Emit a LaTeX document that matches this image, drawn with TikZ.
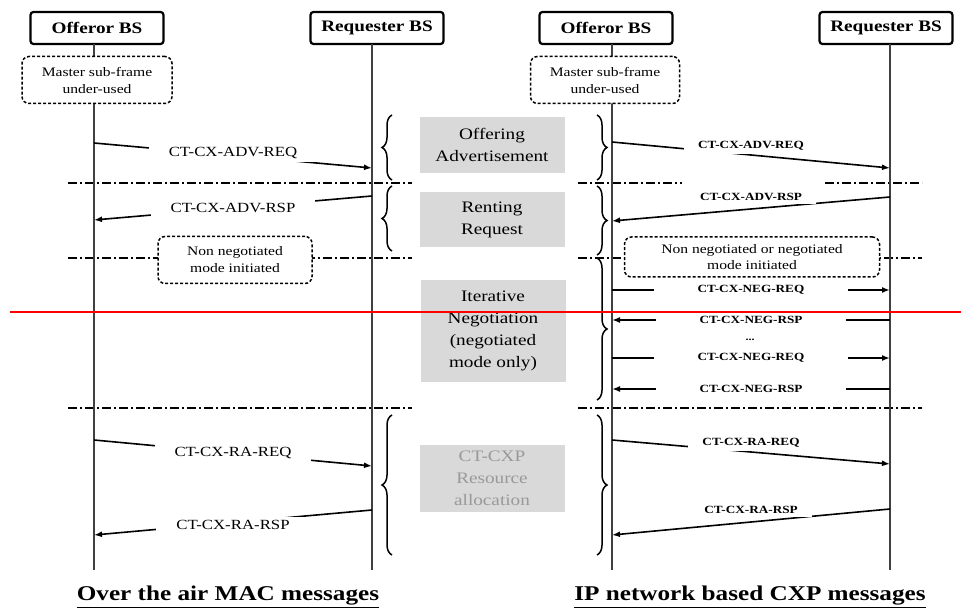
\documentclass[tikz,border=0pt]{standalone}
\usepackage{fontspec}
\setmainfont{Liberation Serif}[FakeStretch=1.2]
\usetikzlibrary{arrows.meta,decorations.pathreplacing}

\begin{document}
\begin{tikzpicture}[x=1pt,y=-1pt,
  bs/.style={draw,line width=2.2pt,rounded corners=3pt,fill=white,minimum width=133pt,minimum height=32pt,font=\fontsize{16}{18}\selectfont\bfseries},
  note/.style={draw,dash pattern=on 3pt off 2pt,line width=1.5pt,rounded corners=7pt,fill=white,align=center,inner sep=2pt,font=\fontsize{13}{17}\selectfont},
  phase/.style={fill=gray!30,align=center,minimum width=145pt,font=\fontsize{16}{22}\selectfont},
  life/.style={line width=2pt,black!75},
  sep/.style={line width=1.8pt,dash pattern=on 9pt off 3pt on 2pt off 3pt},
  msg/.style={line width=1.6pt,-{Latex[length=8pt,width=6pt]}},
  lbl/.style={fill=white,inner xsep=20pt,inner ysep=3pt,font=\fontsize{14}{16}\selectfont},
  lblb/.style={fill=white,inner xsep=14pt,inner ysep=3pt,font=\fontsize{11}{13}\selectfont\bfseries},
  neg/.style={lblb,inner xsep=44pt},
  brc/.style={decorate,decoration={brace,amplitude=10pt},line width=1.5pt},
  ttl/.style={font=\fontsize{21}{24}\selectfont\bfseries}]
\useasboundingbox (0,0) rectangle (961,612);
% phase separators
\draw[sep] (68,183) -- (412,183); \draw[sep] (578,183) -- (682,183); \draw[sep] (825,183) -- (922,183);
\draw[sep] (68,258) -- (412,258); \draw[sep] (578,258) -- (922,258);
\draw[sep] (68,408) -- (412,408); \draw[sep] (578,408) -- (922,408);
% base stations
\node[bs] (offL) at (97,28)  {Offeror BS};
\node[bs] (reqL) at (377,28) {Requester BS};
\node[bs] (offR) at (606,28) {Offeror BS};
\node[bs] (reqR) at (886,28) {Requester BS};
% lifelines
\coordinate (aT) at (94,44);  \coordinate (aB) at (94,570);
\coordinate (bT) at (372,44); \coordinate (bB) at (372,570);
\coordinate (cT) at (612,44); \coordinate (cB) at (612,570);
\coordinate (dT) at (890,44); \coordinate (dB) at (890,570);
\draw[life] (aT) -- (aB); \draw[life] (bT) -- (bB);
\draw[life] (cT) -- (cB); \draw[life] (dT) -- (dB);
% notes
\node[note,minimum width=150pt,minimum height=47pt] (mstL) at (97,80)  {Master sub-frame\\under-used};
\node[note,minimum width=149pt,minimum height=47pt] (mstR) at (605,80) {Master sub-frame\\under-used};
\node[note,minimum width=154pt,minimum height=47pt] (nonL) at (235,260) {Non negotiated\\mode initiated};
\node[note,minimum width=255pt,minimum height=40pt,font=\fontsize{13}{16}\selectfont] (nonR) at (752,257) {Non negotiated or negotiated\\mode initiated};
% phases
\node[phase,minimum height=56pt]  (pOff) at (492,145) {Offering\\Advertisement};
\node[phase,minimum height=55pt]  (pRen) at (492,220) {Renting\\Request};
\node[phase,minimum height=102pt] (pNeg) at (493,331) {Iterative\\Negotiation\\(negotiated\\mode only)};
\node[phase,minimum height=67pt,text=black!40] (pRes) at (492,478) {CT-CXP\\Resource\\allocation};
% braces
\draw[brc] (392,180) -- (392,115); \draw[brc] (392,251) -- (392,186);
\draw[brc] (392,555) -- (392,415);
\draw[brc] (597,115) -- (597,180); \draw[brc] (597,186) -- (597,255);
\draw[brc] (597,258) -- (597,400); \draw[brc] (597,415) -- (597,555);
% over the air messages
\coordinate (m1s) at (94,143);  \coordinate (m1e) at (372,168);
\coordinate (m2s) at (372,196); \coordinate (m2e) at (94,220);
\coordinate (m3s) at (94,440);  \coordinate (m3e) at (372,466);
\coordinate (m4s) at (372,510); \coordinate (m4e) at (94,535);
\draw[msg] (m1s) -- (m1e) node[lbl,midway,yshift=2pt] {CT-CX-ADV-REQ};
\draw[msg] (m2s) -- (m2e) node[lbl,midway] {CT-CX-ADV-RSP};
\draw[msg] (m3s) -- (m3e) node[lbl,midway] {CT-CX-RA-REQ};
\draw[msg] (m4s) -- (m4e) node[lbl,midway,yshift=-2pt] {CT-CX-RA-RSP};
% IP network messages
\coordinate (n1s) at (612,142); \coordinate (n1e) at (890,168);
\coordinate (n2s) at (890,197); \coordinate (n2e) at (612,221);
\coordinate (n3s) at (612,290); \coordinate (n3e) at (890,290);
\coordinate (n4s) at (890,320); \coordinate (n4e) at (612,320);
\coordinate (n5s) at (612,358); \coordinate (n5e) at (890,358);
\coordinate (n6s) at (890,389); \coordinate (n6e) at (612,389);
\coordinate (n7s) at (612,440); \coordinate (n7e) at (890,464);
\coordinate (n8s) at (890,509); \coordinate (n8e) at (612,535);
\draw[msg] (n1s) -- (n1e) node[lblb,midway,yshift=9pt] {CT-CX-ADV-REQ};
\draw[msg] (n2s) -- (n2e) node[lblb,midway,yshift=12pt] {CT-CX-ADV-RSP};
\draw[msg] (n3s) -- (n3e) node[neg,midway] {CT-CX-NEG-REQ};
\draw[msg] (n4s) -- (n4e) node[neg,midway] {CT-CX-NEG-RSP};
\node[font=\bfseries] (dots) at (750,340) {...};
\draw[msg] (n5s) -- (n5e) node[neg,midway] {CT-CX-NEG-REQ};
\draw[msg] (n6s) -- (n6e) node[neg,midway] {CT-CX-NEG-RSP};
\draw[msg] (n7s) -- (n7e) node[lblb,midway,yshift=9pt] {CT-CX-RA-REQ};
\draw[msg] (n8s) -- (n8e) node[lblb,midway,yshift=12pt] {CT-CX-RA-RSP};
% captions
\node[ttl] (capL) at (228,597) {\underline{Over the air MAC messages}};
\node[ttl] (capR) at (750,597) {\underline{IP network based CXP messages}};
% marker line
\coordinate (rl) at (10,312); \coordinate (rr) at (961,312);
\draw[red,line width=1.3pt] (rl) -- (rr);
\end{tikzpicture}
\end{document}
